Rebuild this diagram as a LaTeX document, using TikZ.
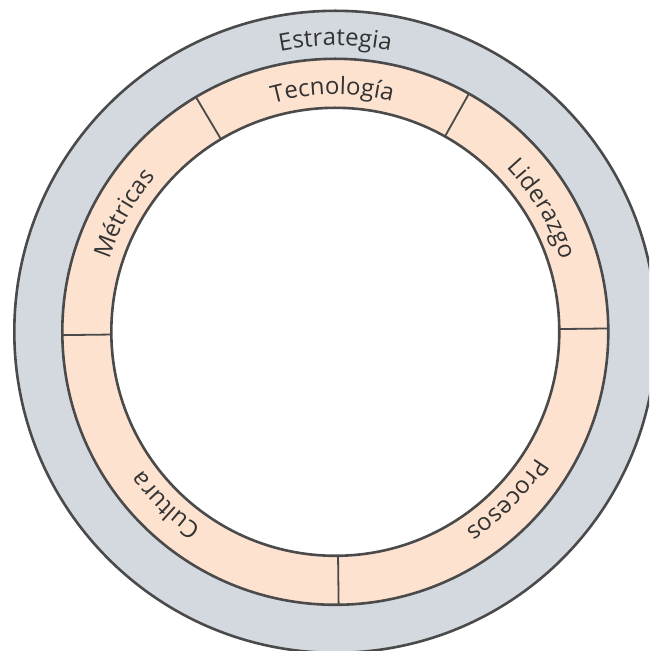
\documentclass[tikz,border=0pt]{standalone}
\usepackage{fontspec}
\setmainfont{Open Sans}
\usetikzlibrary{decorations.text}

\definecolor{outerfill}{HTML}{D3D9DF}
\definecolor{ringfill}{HTML}{FDE2CF}
\definecolor{edge}{HTML}{4A4A4A}
\definecolor{labeltext}{HTML}{333333}

\newcommand\labelfont{\fontsize{24}{28}\selectfont}

% label set along a clockwise arc, centred on angle #1, baseline radius #2
\newcommand\arclabel[3]{%
  \path[decorate, decoration={text along path, text align=center,
        text color=labeltext, text={|\labelfont|#3}}]
    ([shift={(#1+70:#2)}]c) arc[start angle=#1+70, end angle=#1-70, radius=#2];}

\tikzset{
  band/.style={draw=edge, line width=2.6pt},
  divider/.style={draw=edge, line width=1.8pt}
}

\begin{document}
\begin{tikzpicture}[x=1pt, y=1pt]
\useasboundingbox (0,0) rectangle (649,651);
\clip (0,0) rectangle (649,651);
\coordinate (c) at (335.3,319.2);

% outer strategy ring
\filldraw[band, fill=outerfill] (c) circle[radius=321];
% inner ring of five areas
\filldraw[band, fill=ringfill] (c) circle[radius=273];
\filldraw[band, fill=white] (c) circle[radius=224];

% boundaries between the five areas
\foreach \a in {0.7, 60.7, 120.7, 180.7, 270.7}
  \draw[divider] ([shift={(\a:224)}]c) -- ([shift={(\a:273)}]c);

% labels
\arclabel{90}{286}{Estrategia}
\arclabel{90.7}{237}{Tecnología}
\arclabel{30.7}{237}{Liderazgo}
\arclabel{-44.3}{237}{Procesos}
\arclabel{225.7}{237}{Cultura}
\arclabel{150.7}{237}{Métricas}
\end{tikzpicture}
\end{document}
